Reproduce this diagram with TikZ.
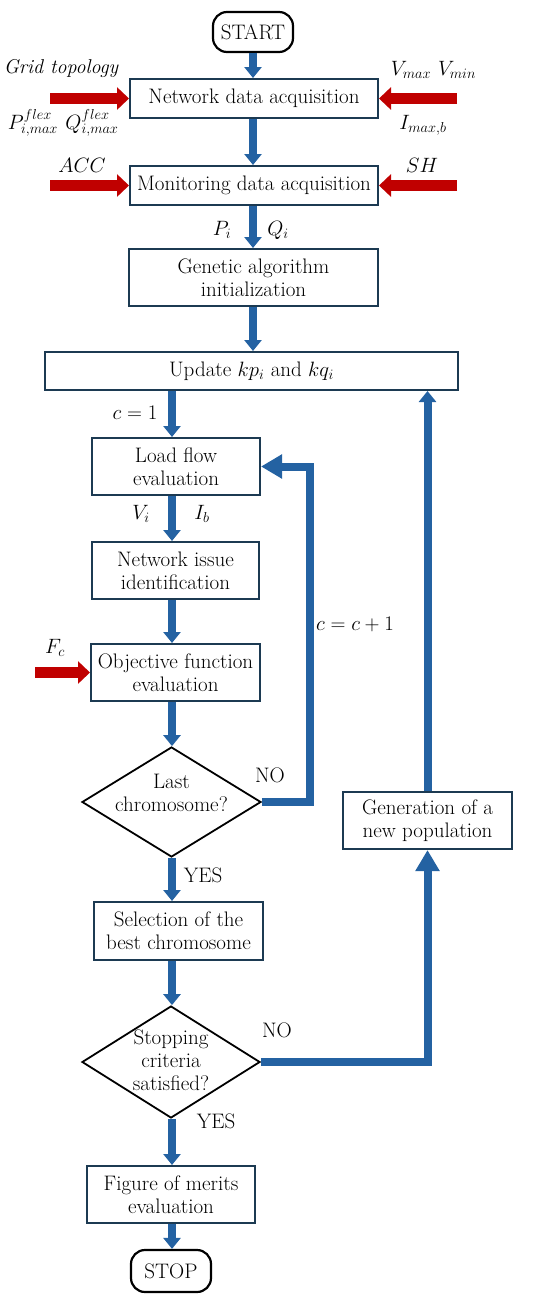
\documentclass[tikz,border=0pt]{standalone}
\usetikzlibrary{arrows.meta,shapes.geometric,calc}
\definecolor{bblue}{HTML}{2462A2}
\definecolor{rred}{HTML}{C00000}
\definecolor{navy}{HTML}{1C3A52}
\begin{document}
\begin{tikzpicture}[x=1pt,y=-1pt,
 font=\fontsize{21}{23}\selectfont,
 box/.style={draw=navy, line width=2pt, align=center, inner sep=0pt, fill=white},
 term/.style={draw=black, line width=2.2pt, rounded corners=14pt, minimum width=80pt, minimum height=40pt, inner sep=0pt},
 dia/.style={draw=black, line width=1.8pt, shape=diamond, inner sep=0pt},
 dtext/.style={align=center, inner sep=0pt},
 barrow/.style={draw=bblue, line width=8pt, -{Triangle[width=17pt,length=11pt]}},
 bigarrow/.style={draw=bblue, line width=8pt, -{Triangle[width=23pt,length=21pt]}},
 rarrow/.style={draw=rred, line width=11pt, -{Triangle[width=22pt,length=12pt]}},
 lbl/.style={inner sep=0pt},
]
\useasboundingbox (0,0) rectangle (550,1301);

% nodes
\node[term] (start) at (253,32) {START};
\node[box, minimum width=248pt, minimum height=39pt] (net) at (254,98.5) {Network data acquisition};
\node[box, minimum width=248pt, minimum height=39pt] (mon) at (254,185.5) {Monitoring data acquisition};
\node[box, minimum width=249pt, minimum height=57pt] (gen) at (253.5,277.5) {Genetic algorithm\\initialization};
\node[box, minimum width=413pt, minimum height=38pt] (upd) at (251.5,371) {Update $kp_i$ and $kq_i$};
\node[box, minimum width=168pt, minimum height=57pt] (load) at (176,466.5) {Load flow\\evaluation};
\node[box, minimum width=167pt, minimum height=57pt] (issue) at (175.5,570.5) {Network issue\\identification};
\node[box, minimum width=169pt, minimum height=57pt] (obj) at (175.5,672.5) {Objective function\\evaluation};
\node[dia, minimum width=179pt, minimum height=110pt] (d1) at (171.5,802) {};
\node[dtext] (d1t) at (171.5,793) {Last\\chromosome?};
\node[box, minimum width=169pt, minimum height=58pt] (sel) at (178.5,931) {Selection of the\\best chromosome};
\node[dia, minimum width=178pt, minimum height=112pt] (d2) at (171,1062) {};
\node[dtext] (d2t) at (171,1060) {Stopping\\criteria\\satisfied?};
\node[box, minimum width=168pt, minimum height=57pt] (fig) at (171,1194.5) {Figure of merits\\evaluation};
\node[term, minimum height=42pt] (stop) at (171,1271) {STOP};
\node[box, minimum width=169pt, minimum height=57pt] (newpop) at (427.5,820.5) {Generation of a\\new population};

\coordinate (col) at (172,0);

% main flow
\draw[barrow] (start.south) -- (start.south |- net.north);
\draw[barrow] (net.south -| start) -- (mon.north -| start);
\draw[barrow] (mon.south -| start) -- (gen.north -| start);
\draw[barrow] (gen.south -| start) -- (upd.north -| start);
\draw[barrow] (upd.south -| col) -- (load.north -| col);
\draw[barrow] (load.south -| col) -- (issue.north -| col);
\draw[barrow] (issue.south -| col) -- (obj.north -| col);
\draw[barrow] (obj.south -| col) -- (d1.north -| col);
\draw[barrow] (d1.south -| col) -- (sel.north -| col);
\draw[barrow] (sel.south -| col) -- (d2.north -| col);
\draw[barrow] (d2.south -| col) -- (fig.north -| col);
\draw[barrow] (fig.south -| col) -- (stop.north -| col);

% loops
\draw[bigarrow] (d1.east) -- ++(48,0) |- (load.east);
\draw[bigarrow] (d2.east) -| (newpop.south);
\draw[barrow] (newpop.north) -- (newpop.north |- upd.south);

% red inputs
\coordinate (r1) at (50,98.5);
\coordinate (r2) at (457,98.5);
\coordinate (r3) at (50,185.5);
\coordinate (r4) at (457,185.5);
\coordinate (r5) at (35,672.5);
\draw[rarrow] (r1) -- (net.west);
\draw[rarrow] (r2) -- (net.east);
\draw[rarrow] (r3) -- (mon.west);
\draw[rarrow] (r4) -- (mon.east);
\draw[rarrow] (r5) -- (obj.west);

% labels
\node[lbl] (gt) at (61,68) {\fontsize{20}{22}\selectfont\itshape Grid topology};
\node[lbl] (pf) at (33,123) {$P_{i,max}^{flex}$};
\node[lbl] (qf) at (92,123) {$Q_{i,max}^{flex}$};
\node[lbl] (vmax) at (411,70) {$V_{max}$};
\node[lbl] (vmin) at (457,70) {$V_{min}$};
\node[lbl] (imax) at (423,125) {$I_{max,b}$};
\node[lbl] (acc) at (82,165) {$ACC$};
\node[lbl] (sh) at (422,165) {$SH$};
\node[lbl] (pi) at (222,230) {$P_i$};
\node[lbl] (qi) at (278,230) {$Q_i$};
\node[lbl] (c1) at (135,413) {$c=1$};
\node[lbl] (vi) at (141,514) {$V_i$};
\node[lbl] (ib) at (202,514) {$I_b$};
\node[lbl] (fc) at (55,648) {$F_c$};
\node[lbl] (cc) at (355,624) {$c=c+1$};
\node[lbl] (no1) at (270,775) {NO};
\node[lbl] (no2) at (277,1030) {NO};
\node[lbl] (yes1) at (203,875) {YES};
\node[lbl] (yes2) at (216,1121) {YES};
\end{tikzpicture}
\end{document}
